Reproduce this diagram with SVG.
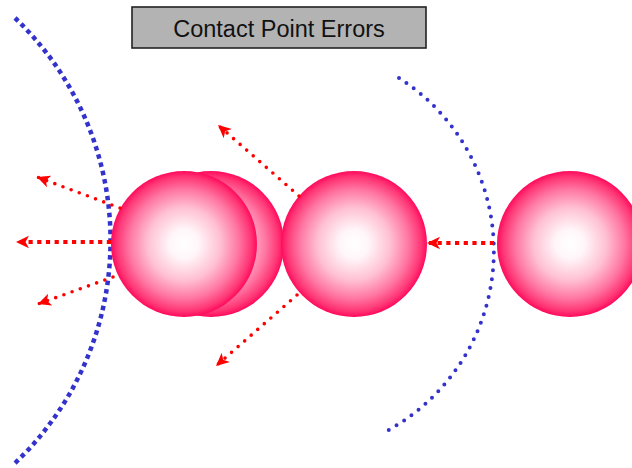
<svg xmlns="http://www.w3.org/2000/svg" width="632" height="468" viewBox="0 0 632 468">
<style>
.ball{fill:url(#ballGrad);}
.arcSq{fill:none;stroke:#3333CC;stroke-width:4.5;stroke-dasharray:4.5 4;}
.arcDot{fill:none;stroke:#3333CC;stroke-width:4;stroke-linecap:round;stroke-dasharray:0 9;}
.arrThick{fill:none;stroke:#FF0000;stroke-width:4.2;stroke-dasharray:4.2 4.5;marker-end:url(#head);}
.arrDot{fill:none;stroke:#FF0000;stroke-width:3.6;stroke-linecap:round;stroke-dasharray:0 8.7;marker-end:url(#head);}
.title{fill:#B3B3B3;stroke:#222;stroke-width:1.6;}
.titleText{font-family:"Liberation Sans",Arial,sans-serif;font-size:23.5px;fill:#111;text-anchor:middle;}
</style>
<defs>
<radialGradient id="ballGrad" cx="0.5" cy="0.5" r="0.5">
<stop offset="0" stop-color="#FFFFFF"/>
<stop offset="0.2" stop-color="#FFF6F9"/>
<stop offset="0.5" stop-color="#FFC0D3"/>
<stop offset="0.75" stop-color="#FF76A2"/>
<stop offset="0.92" stop-color="#FF3676"/>
<stop offset="1" stop-color="#FF0A5C"/>
</radialGradient>
<marker id="head" markerUnits="userSpaceOnUse" markerWidth="14" markerHeight="14" viewBox="0 0 14 14" refX="13" refY="7" orient="auto">
<path d="M13,7 L0,0.8 L3.5,7 L0,13.2 Z" fill="#FF0000"/>
</marker>
</defs>
<g id="title">
<rect class="title" x="132" y="7" width="294" height="41"/>
<text class="titleText" x="279" y="37">Contact Point Errors</text>
</g>
<g id="wave-left">
<path class="arcSq" d="M15,18 A307,307 0 0 1 13,465"/>
</g>
<g id="wave-right">
<path class="arcDot" d="M399,78 A205,205 0 0 1 383,433"/>
</g>
<g id="ball-back">
<circle class="ball" cx="211" cy="244" r="73"/>
</g>
<g id="ball-front">
<circle class="ball" cx="184" cy="244" r="73"/>
</g>
<g id="ball-middle">
<circle class="ball" cx="354" cy="244" r="73"/>
</g>
<g id="ball-right">
<circle class="ball" cx="570" cy="244" r="73"/>
</g>
<g id="connectors">
<line class="arrThick" x1="111" y1="242" x2="16" y2="242"/>
<line class="arrDot" x1="120" y1="208" x2="37" y2="177"/>
<line class="arrDot" x1="113" y1="277" x2="38" y2="304"/>
<line class="arrDot" x1="299" y1="196" x2="218" y2="125"/>
<line class="arrDot" x1="297" y1="295" x2="216" y2="366"/>
<line class="arrThick" x1="494" y1="243" x2="427" y2="243"/>
</g>
</svg>
